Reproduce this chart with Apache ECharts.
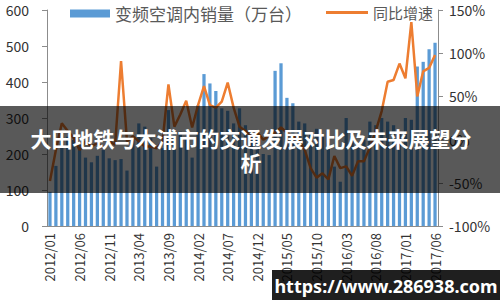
<!DOCTYPE html>
<html>
<head>
<meta charset="utf-8">
<script src="https://cdn.jsdelivr.net/npm/echarts@6/dist/echarts.min.js"></script>
<style>
  html, body { margin: 0; padding: 0; background: #fff; }
  #chart { width: 500px; height: 300px; }
</style>
</head>
<body>
<div id="chart"></div>
<script>
// months on the x axis
const months = [
  '2012/01', '2012/02', '2012/03', '2012/04', '2012/05', '2012/06', '2012/07', '2012/08', '2012/09', '2012/10', '2012/11', '2012/12',
  '2013/01', '2013/02', '2013/03', '2013/04', '2013/05', '2013/06', '2013/07', '2013/08', '2013/09', '2013/10', '2013/11', '2013/12',
  '2014/01', '2014/02', '2014/03', '2014/04', '2014/05', '2014/06', '2014/07', '2014/08', '2014/09', '2014/10', '2014/11', '2014/12',
  '2015/01', '2015/02', '2015/03', '2015/04', '2015/05', '2015/06', '2015/07', '2015/08', '2015/09', '2015/10', '2015/11', '2015/12',
  '2016/01', '2016/02', '2016/03', '2016/04', '2016/05', '2016/06', '2016/07', '2016/08', '2016/09', '2016/10', '2016/11', '2016/12',
  '2017/01', '2017/02', '2017/03', '2017/04', '2017/05', '2017/06'
]
// 变频空调内销量（万台）
const sales = [
  95, 167, 244, 248, 239, 225, 190, 177, 195, 211, 188, 183,
  186, 154, 244, 285, 276, 244, 165, 216, 322, 267, 262, 244,
  190, 336, 422, 396, 375, 327, 320, 285, 327, 280, 250, 240,
  200, 197, 431, 452, 356, 341, 290, 285, 260, 270, 250, 230,
  165, 123, 300, 250, 230, 240, 290, 280, 300, 290, 280, 260,
  300, 295, 443, 456, 491, 509
]
// 同比增速 (%)
const growth = [
  -48, -12, 19, 10, 2, -12, -2, -8, -4, -10, -2, -6,
  91, -2, 4, -2, -8, -8, -10, -2, 64, 15, 29, 45,
  14, 40, 62, 40, 37, 44, 66, 37, 15, 10, 4, 8,
  0, 4, 8, 14, 8, 4, 0, -12, -33, -44, -39, -46,
  -19, -33, -31, -42, -25, -25, -9, 10, 33, 67, 69, 88,
  71, 136, 50, 79, 83, 98
]
const seriesNames = ['变频空调内销量（万台）', '同比增速']
const title = '大田地铁与木浦市的交通发展对比及未来展望分\n析'
const watermark = 'https://www.286938.com'

const font = "'Noto Sans CJK SC', 'Noto Sans', sans-serif"
const axisGray = '#8c8c8c'

const chart = echarts.init(document.getElementById('chart'), null, { renderer: 'svg' })

chart.setOption({
  animation: false,
  textStyle: { fontFamily: font },
  grid: { left: 47, right: 62, top: 10, bottom: 74 },
  legend: [
    {
      data: [seriesNames[0]],
      left: 70,
      top: 5,
      padding: 0,
      icon: 'rect',
      itemWidth: 40,
      itemHeight: 8,
      textStyle: { color: '#595959', fontSize: 17, fontFamily: font }
    },
    {
      data: [seriesNames[1]],
      left: 326,
      top: 5,
      padding: 0,
      icon: 'rect',
      itemWidth: 42,
      itemHeight: 3,
      textStyle: { color: '#595959', fontSize: 15, fontFamily: font }
    }
  ],
  xAxis: {
    type: 'category',
    data: months,
    axisLine: { lineStyle: { color: axisGray } },
    axisTick: { interval: 4, length: 5, lineStyle: { color: axisGray } },
    axisLabel: {
      interval: 4,
      rotate: 90,
      margin: 7,
      color: '#333',
      fontSize: 13
    }
  },
  yAxis: [
    {
      type: 'value',
      min: 0,
      max: 600,
      interval: 100,
      splitLine: { show: false },
      axisLine: { show: true, lineStyle: { color: axisGray } },
      axisTick: { show: true, length: 5, lineStyle: { color: axisGray } },
      axisLabel: { color: '#333', fontSize: 14, margin: 18 }
    },
    {
      type: 'value',
      min: -100,
      max: 150,
      interval: 50,
      splitLine: { show: false },
      axisLine: { show: true, lineStyle: { color: axisGray } },
      axisTick: { show: true, length: 5, lineStyle: { color: axisGray } },
      axisLabel: { color: '#333', fontSize: 14, margin: 11, formatter: '{value}%' }
    }
  ],
  series: [
    {
      name: seriesNames[0],
      type: 'bar',
      data: sales,
      barCategoryGap: '45%',
      itemStyle: { color: '#5b9bd5' }
    },
    {
      name: seriesNames[1],
      type: 'line',
      yAxisIndex: 1,
      data: growth,
      symbol: 'none',
      lineStyle: { color: '#ed7d31', width: 2.5 },
      itemStyle: { color: '#ed7d31' }
    }
  ],
  graphic: [
    {
      type: 'rect',
      z: 100,
      shape: { x: 0, y: 106, width: 500, height: 87 },
      style: { fill: 'rgba(0,0,0,0.65)' }
    },
    {
      type: 'text',
      z: 101,
      x: 251,
      y: 150,
      style: {
        text: title,
        fill: '#fff',
        font: "bold 21px 'Noto Sans CJK SC', sans-serif",
        textAlign: 'center',
        textVerticalAlign: 'middle',
        lineHeight: 24
      }
    },
    {
      type: 'rect',
      z: 100,
      shape: { x: 272, y: 270, width: 228, height: 30 },
      style: { fill: 'rgba(0,0,0,0.88)' }
    },
    {
      type: 'text',
      z: 101,
      x: 386,
      y: 286,
      style: {
        text: watermark,
        fill: '#fff',
        font: "bold 18px 'Noto Sans', sans-serif",
        textAlign: 'center',
        textVerticalAlign: 'middle'
      }
    }
  ]
})
</script>
</body>
</html>
